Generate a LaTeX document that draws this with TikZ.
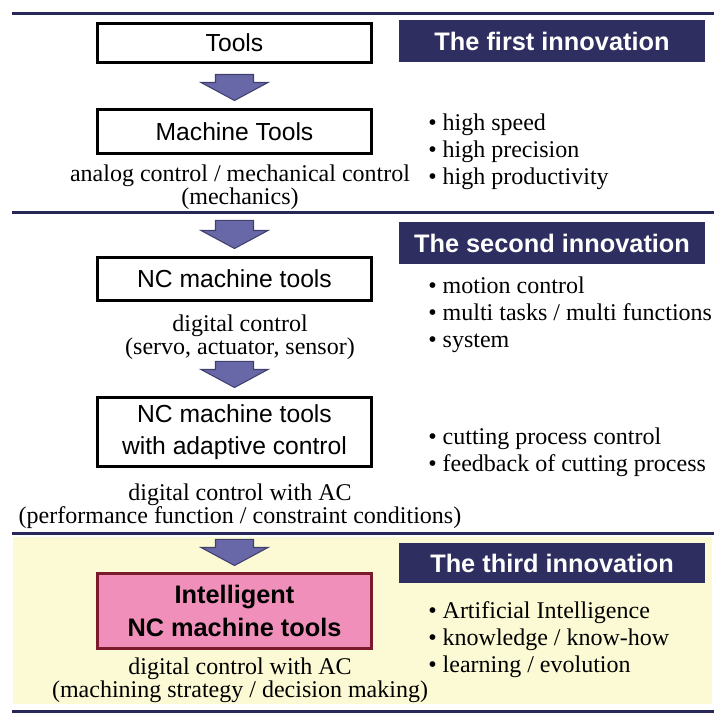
\documentclass[tikz,border=0pt]{standalone}
\usepackage{fontspec}
\setmainfont{Liberation Serif}
\setsansfont{Liberation Sans}
\usepackage{tikz}
\usetikzlibrary{calc}
\definecolor{navy}{RGB}{46,46,96}
\definecolor{rulenavy}{RGB}{40,40,88}
\definecolor{arrowfill}{RGB}{104,104,168}
\definecolor{arrowline}{RGB}{64,64,110}
\definecolor{pinkfill}{RGB}{240,144,186}
\definecolor{darkred}{RGB}{122,26,42}
\definecolor{paleyellow}{RGB}{252,250,212}

\begin{document}
\begin{tikzpicture}[x=0.75pt, y=-0.75pt,
% common options for the boxes:
box/.style = {draw, line width=2.25pt, minimum width=205.5pt, align=center,
            inner sep=0, font=\sffamily\fontsize{18.5}{24}\selectfont},
% common options for the titles:
title/.style = {fill=navy, text=white, minimum width=229.5pt, minimum height=31.5pt,
            inner sep=0, font=\sffamily\bfseries\fontsize{19}{22}\selectfont},
% text below the boxes (anchored at the last line):
desc/.style = {align=center, anchor=base, inner sep=0, font=\fontsize{18}{17.25}\selectfont},
% bullet lists (anchored at the last line):
feat/.style = {align=left, anchor=base west, inner sep=0, font=\fontsize{18}{20.25}\selectfont},
% horizontal rules:
rule/.style = {draw=rulenavy, line width=2.25pt},
% block arrows:
fat/.style = {fill=arrowfill, draw=arrowline, line width=0.8pt, to path={
            let \p1=(\tikztostart), \p2=(\tikztotarget) in
            (\x1-14.25pt,\y1) -- (\x1+14.25pt,\y1) -- (\x1+14.25pt,\y2+13.5pt)
            -- (\x1+25.1pt,\y2+13.5pt) -- (\x1,\y2) -- (\x1-25.1pt,\y2+13.5pt)
            -- (\x1-14.25pt,\y2+13.5pt) -- cycle}}]
\useasboundingbox (0,0) rectangle (724,720);
\fill[paleyellow] (13,537) rectangle (712,704);
\draw[rule] (12,14) -- (714,14);
\draw[rule] (12,213) -- (714,213);
\draw[rule] (12,533) -- (714,533);
\draw[rule] (12,711) -- (714,711);
\node[box, minimum height=29.25pt] (B0) at (234.5,43) {Tools};
\node[box, minimum height=33pt] (B1) at (234.5,131.5) {Machine Tools};
\node[box, minimum height=32.25pt] (B2) at (234.5,279) {NC machine tools};
\node[box, minimum height=51.75pt] (B3) at (234.5,432) {NC machine tools\\with adaptive control};
\node[box, minimum height=56.25pt, fill=pinkfill, draw=darkred,
      font=\sffamily\bfseries\fontsize{19}{24.75}\selectfont] (B4) at (234.5,611) {Intelligent\\NC machine tools};
\node[title] (T1) at (552,41) {The first innovation};
\node[title] (T2) at (552,243) {The second innovation};
\node[title, minimum height=30pt] (T3) at (552,563) {The third innovation};
\node[desc] (D1) at (240,205) {analog control / mechanical control\\(mechanics)};
\node[desc] (D2) at (240,354) {digital control\\(servo, actuator, sensor)};
\node[desc] (D3) at (240,523) {digital control with AC\\(performance function / constraint conditions)};
\node[desc] (D4) at (240,697) {digital control with AC\\(machining strategy / decision making)};
\node[feat] (F1) at (428,185) {\textbullet\ high speed\\\textbullet\ high precision\\\textbullet\ high productivity};
\node[feat] (F2) at (428,347) {\textbullet\ motion control\\\textbullet\ multi tasks / multi functions\\\textbullet\ system};
\node[feat] (F3) at (428,471) {\textbullet\ cutting process control\\\textbullet\ feedback of cutting process};
\node[feat] (F4) at (428,672) {\textbullet\ Artificial Intelligence\\\textbullet\ knowledge / know-how\\\textbullet\ learning / evolution};
\path[fat] ($(B0.south)+(0,10.5)$) to ($(B1.north)+(0,-7.5)$);
\path[fat] ($(B1.south |- D1.south)+(0,10)$) to ($(B2.north)+(0,-7.5)$);
\path[fat] ($(B2.south |- D2.south)+(0,2)$) to ($(B3.north)+(0,-8.5)$);
\path[fat] ($(B3.south |- D3.south)+(0,11)$) to ($(B4.north)+(0,-6.5)$);
\end{tikzpicture}
\end{document}
